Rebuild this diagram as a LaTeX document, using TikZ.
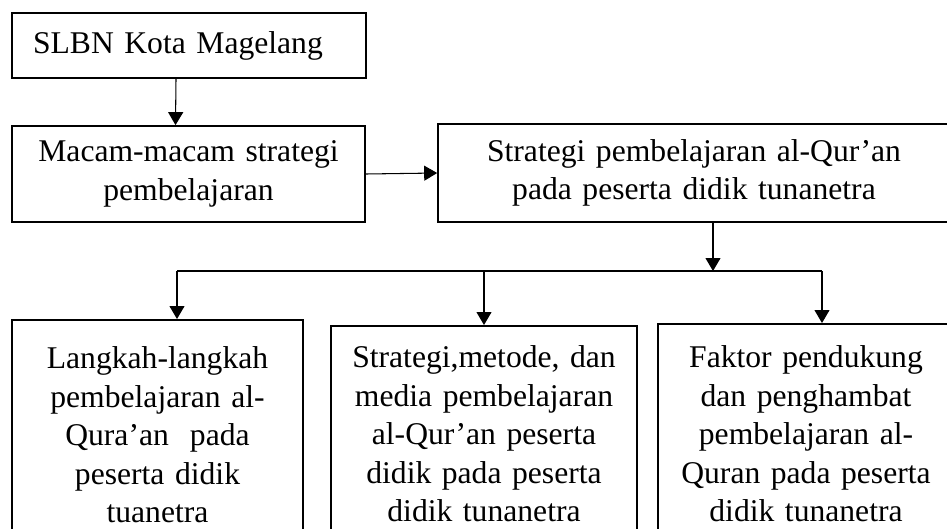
\documentclass[tikz,border=0pt]{standalone}
\usepackage{fontspec}
\setmainfont{Liberation Serif}
\usepackage{tikz}
\usetikzlibrary{arrows.meta}

\begin{document}
\begin{tikzpicture}[x=0.02cm,y=-0.02cm,
  kotak/.style={draw,line width=1pt,rectangle,align=center,inner xsep=0.1cm,
    font=\fontsize{18}{21.9}\selectfont},
  bawah/.style={kotak,anchor=north},
  panah/.style={-{Triangle[length=0.26cm,width=0.3cm]},line width=0.6pt}]
\useasboundingbox (0,0) rectangle (947,528);
\clip (0,0) rectangle (947,528);
% baris atas
\node[kotak,text width=6.24cm,inner xsep=0.42cm,align=left,minimum height=1.3cm] (slb) at (189,45.5) {SLBN Kota Magelang};
\node[kotak,text width=6.86cm,minimum height=1.92cm] (macam) at (188.5,174) {Macam-macam strategi\\ pembelajaran};
\node[kotak,text width=10.04cm,minimum height=1.96cm] (strat) at (694,173) {Strategi pembelajaran al-Qur’an\\ pada peserta didik tunanetra};
% baris bawah
\node[bawah,text width=5.62cm,inner ysep=0.54cm] (langkah) at (157.5,319) {Langkah-langkah\\ pembelajaran al-\\ Qura’an\ \ pada\\ peserta didik\\ tuanetra};
\node[bawah,text width=5.92cm,inner ysep=0.4cm] (metode) at (484,325) {Strategi,metode, dan\\ media pembelajaran\\ al-Qur’an peserta\\ didik pada peserta\\ didik tunanetra};
\node[bawah,text width=5.72cm,inner ysep=0.44cm] (faktor) at (806,323) {Faktor pendukung\\ dan penghambat\\ pembelajaran al-\\ Quran pada peserta\\ didik tunanetra};
% percabangan
\coordinate (j) at (713,271);
\coordinate (jl) at (177,271);
\coordinate (jr) at (822,271);
\draw[panah] ([xshift=-0.26cm]slb.south) -- ([xshift=-0.26cm]macam.north);
\draw[panah] (macam.east) -- (strat.west);
\draw[panah] (strat.south -| j) -- (j);
\draw[line width=0.6pt] (jl) -- (jr);
\draw[panah] (jl) -- (jl |- langkah.north);
\draw[panah] (metode.north |- j) -- (metode.north);
\draw[panah] (jr) -- (jr |- faktor.north);
\end{tikzpicture}
\end{document}
